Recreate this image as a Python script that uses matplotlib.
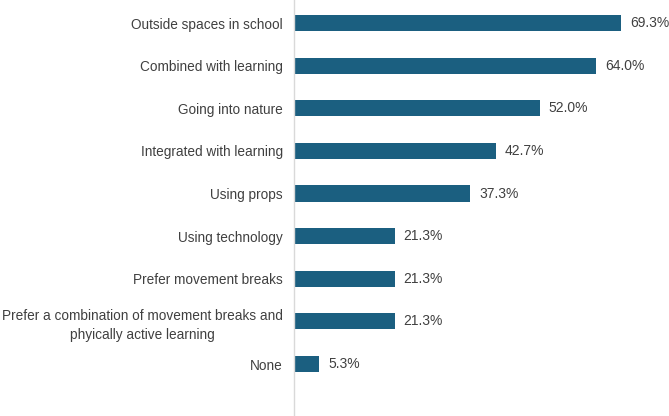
import matplotlib.pyplot as plt

categories = ["Outside spaces in school", "Combined with learning", "Going into nature",
              "Integrated with learning", "Using props", "Using technology",
              "Prefer movement breaks",
              "Prefer a combination of movement breaks and\nphyically active learning", "None"]
values = [69.3, 64.0, 52.0, 42.7, 37.3, 21.3, 21.3, 21.3, 5.3]

plt.rcParams['font.family'] = ['Liberation Sans', 'DejaVu Sans']

fig = plt.figure(figsize=(6.69, 4.16), dpi=100)
ax = fig.add_axes([294 / 669, 0, 1 - 294 / 669, 1])

pos = list(range(len(values)))
ax.barh(pos, values, height=0.38, color="#1b5f80")
for p, v in zip(pos, values):
    ax.text(v + 1.9, p, f"{v:.1f}%", va="center", ha="left", fontsize=10, color="#404040")

ax.set_yticks(pos)
ax.set_yticklabels(categories, fontsize=9.8, color="#404040",
                   multialignment="center", linespacing=1.5)
ax.tick_params(axis="y", length=0, pad=8)
ax.set_xticks([])
ax.set_xlim(0, 79.4)
ax.set_ylim(9.22, -0.54)
for s in ["top", "right", "bottom"]:
    ax.spines[s].set_visible(False)
ax.spines["left"].set_color("#d9d9d9")
ax.spines["left"].set_linewidth(1)

fig.savefig("out.png", dpi=100)
